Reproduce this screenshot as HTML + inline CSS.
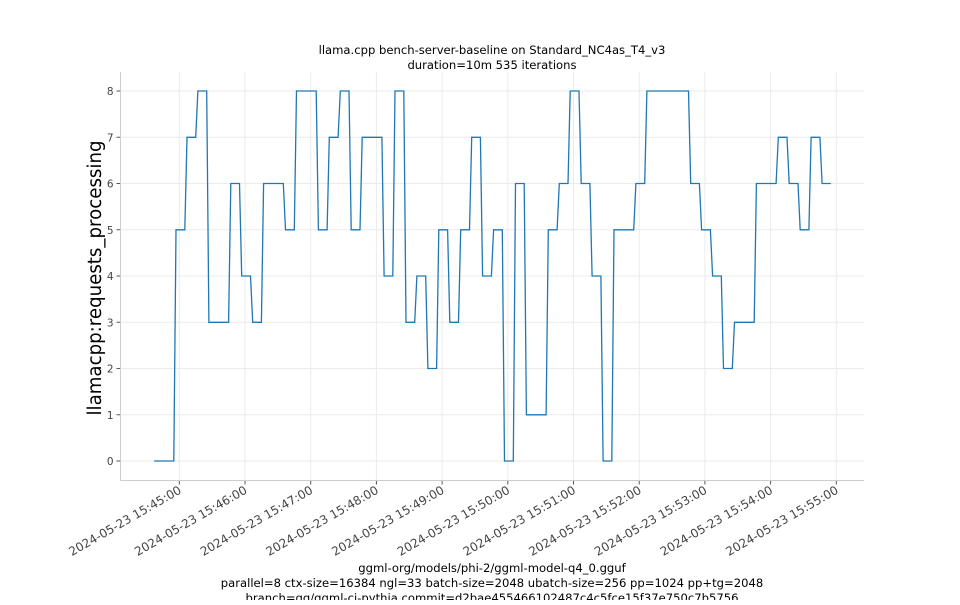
<!DOCTYPE html>
<html><head><meta charset="utf-8"><style>
body{margin:0;background:#fff;}
svg text{font-family:"DejaVu Sans","Liberation Sans",sans-serif;}
</style></head><body>
<svg id="chart" width="960" height="600" xmlns="http://www.w3.org/2000/svg">
<rect width="960" height="600" fill="#fff"/>
<text x="492" y="54" font-size="11.6" text-anchor="middle" fill="#000">llama.cpp bench-server-baseline on Standard_NC4as_T4_v3</text>
<text x="492" y="69" font-size="11.6" text-anchor="middle" fill="#000">duration=10m 535 iterations</text>
<g id="grid"></g>
<g id="axes"></g>
<path id="series" fill="none" stroke="#1f77b4" stroke-width="1.3"/>
<text transform="translate(101,278) rotate(-90)" font-size="18.2" text-anchor="middle" fill="#000">llamacpp:requests_processing</text>
<text x="492" y="572" font-size="11.6" text-anchor="middle">ggml-org/models/phi-2/ggml-model-q4_0.gguf</text>
<text x="492" y="587" font-size="11.6" text-anchor="middle">parallel=8 ctx-size=16384 ngl=33 batch-size=2048 ubatch-size=256 pp=1024 pp+tg=2048</text>
<text x="492" y="602" font-size="11.6" text-anchor="middle">branch=gg/ggml-ci-pythia commit=d2bae455466102487c4c5fce15f37e750c7b5756</text>
</svg>
<script>
// seconds after 15:45:00
const segStart = [-23,-3,7,17,27,47,57,67,77,97,107,127,137,147,157,167,187,197,207,217,227,237,247,257,267,277,287,297,307,317,337,347,357,367,377,387,397,417,427,467,477,487,497,507,527,547,557,567,577,587];
const segEnd   = [-5,5,15,25,45,55,65,75,95,105,125,135,145,155,165,185,195,205,215,225,235,245,255,265,275,285,295,305,315,335,345,355,365,375,385,395,415,425,465,475,485,495,505,525,545,555,565,575,585,595];
const segValue = [0,5,7,8,3,6,4,3,6,5,8,5,7,8,5,7,4,8,3,4,2,5,3,5,7,4,5,0,6,1,5,6,8,6,4,0,5,6,8,6,5,4,2,3,6,7,6,5,7,6];
const yTicks = [0,1,2,3,4,5,6,7,8];
const xTickMinutes = [0,1,2,3,4,5,6,7,8,9,10];
const xTickLabels = ["2024-05-23 15:45:00","2024-05-23 15:46:00","2024-05-23 15:47:00","2024-05-23 15:48:00","2024-05-23 15:49:00","2024-05-23 15:50:00","2024-05-23 15:51:00","2024-05-23 15:52:00","2024-05-23 15:53:00","2024-05-23 15:54:00","2024-05-23 15:55:00"];

const NS="http://www.w3.org/2000/svg";
const L=120.5,R=864,T=72,B=480.5;
const x=t=>179.3+t*65.7/60;
const y=v=>461-v*46.25;
const grid=document.getElementById('grid'), axes=document.getElementById('axes');
function mk(tag,attrs,parent){const e=document.createElementNS(NS,tag);for(const k in attrs)e.setAttribute(k,attrs[k]);parent.appendChild(e);return e;}
yTicks.forEach(v=>{
  const g=mk('line',{x1:L,x2:R,y1:y(v),y2:y(v),stroke:'#ebebeb','stroke-width':1},grid);
  
  
  const tk=mk('line',{x1:L-4,x2:L,y1:y(v),y2:y(v),stroke:'#555'},axes);
  
  
  const t=mk('text',{x:L-7,y:y(v)+4,'font-size':10.5,'text-anchor':'end',fill:'#444'},axes);
  t.textContent=v;
  
  
});
xTickMinutes.forEach((m,i)=>{
  const px=x(m*60);
  const g=mk('line',{x1:px,x2:px,y1:T,y2:B,stroke:'#ebebeb','stroke-width':1},grid);
  
  
  const tk=mk('line',{x1:px,x2:px,y1:B,y2:B+4,stroke:'#555'},axes);
  
  
  const t=mk('text',{'font-size':12,'text-anchor':'end',fill:'#444',transform:`translate(${px+3},${B+12}) rotate(-30)`},axes);
  t.textContent=xTickLabels[i];
  
  
});
const s1=mk('line',{x1:L,x2:L,y1:T,y2:B,stroke:'#ccc'},axes);


const s2=mk('line',{x1:L,x2:R,y1:B,y2:B,stroke:'#ccc'},axes);


let d='';
segValue.forEach((v,i)=>{
  d+=(i?'L':'M')+x(segStart[i]).toFixed(1)+','+y(v).toFixed(1)+'L'+x(segEnd[i]).toFixed(1)+','+y(v).toFixed(1);
});
document.getElementById('series').setAttribute('d',d);
</script>
</body></html>
